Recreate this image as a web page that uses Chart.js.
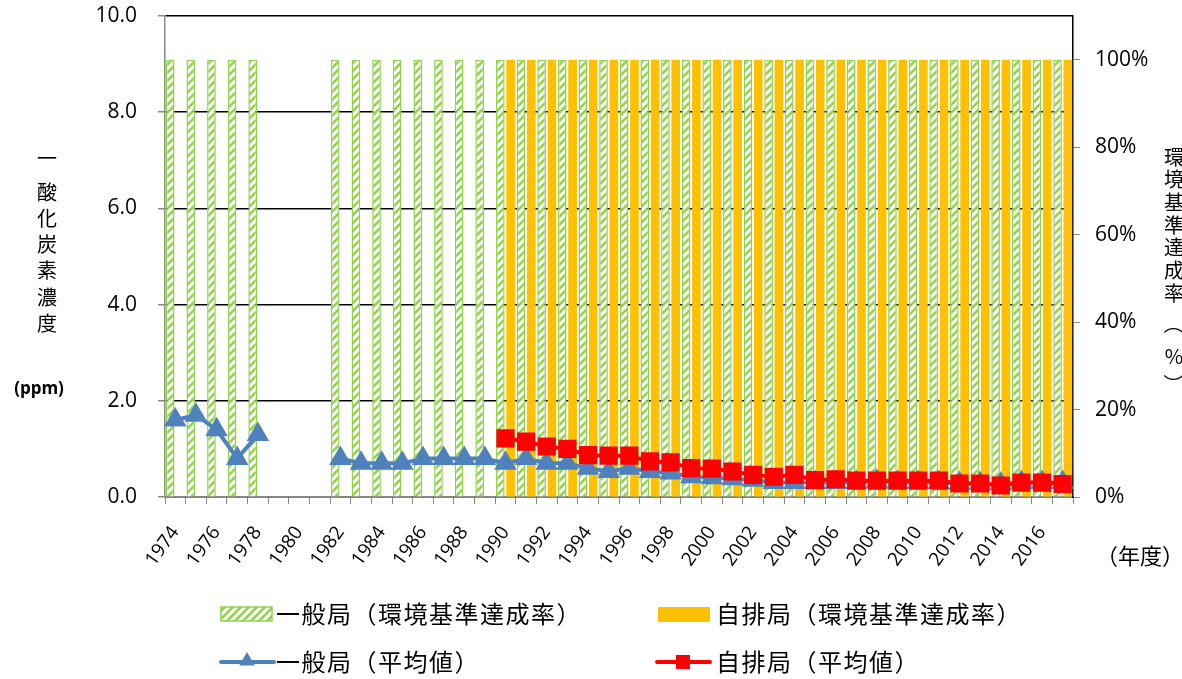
<!DOCTYPE html>
<html>
<head>
    <title>一酸化炭素濃度</title>
    <script src="https://cdn.jsdelivr.net/npm/chart.js"></script>
    <style>
        body {
            margin: 0;
            background-color: #fff;
        }
        .chart-container {
            width: 1182px;
            height: 679px;
            position: relative;
        }
    </style>
</head>
<body>
<div class="chart-container">
    <canvas id="coChart"></canvas>
</div>

<script>
    // 年度
    const years = ['1974','1975','1976','1977','1978','1979','1980','1981','1982','1983',
        '1984','1985','1986','1987','1988','1989','1990','1991','1992','1993',
        '1994','1995','1996','1997','1998','1999','2000','2001','2002','2003',
        '2004','2005','2006','2007','2008','2009','2010','2011','2012','2013',
        '2014','2015','2016','2017'];

    // 環境基準達成率 (%)
    const generalRate = [100,100,100,100,100,null,null,null,100,100,
        100,100,100,100,100,100,100,100,100,100,
        100,100,100,100,100,100,100,100,100,100,
        100,100,100,100,100,100,100,100,100,100,
        100,100,100,100];
    const roadsideRate = [null,null,null,null,null,null,null,null,null,null,
        null,null,null,null,null,null,100,100,100,100,
        100,100,100,100,100,100,100,100,100,100,
        100,100,100,100,100,100,100,100,100,100,
        100,100,100,100];

    // 平均値 (ppm)
    const generalAvg = [1.6,1.7,1.4,0.8,1.3,null,null,null,0.8,0.7,
        0.7,0.7,0.8,0.8,0.8,0.8,0.7,0.8,0.7,0.7,
        0.6,0.53,0.6,0.53,0.5,0.42,0.4,0.38,0.35,0.3,
        0.3,0.3,0.3,0.3,0.33,0.3,0.3,0.3,0.28,0.28,
        0.27,0.3,0.3,0.3];
    const roadsideAvg = [null,null,null,null,null,null,null,null,null,null,
        null,null,null,null,null,null,1.22,1.15,1.05,1.0,
        0.87,0.86,0.86,0.74,0.72,0.6,0.59,0.53,0.46,0.42,
        0.46,0.35,0.37,0.34,0.34,0.34,0.34,0.34,0.28,0.28,
        0.24,0.3,0.3,0.27];

    const leftTicks = [0, 2, 4, 6, 8, 10];
    const rightTicks = [0, 20, 40, 60, 80, 100];

    const GREEN = '#92D050';
    const ORANGE = '#FFC000';
    const BLUE = '#4F81BD';
    const RED = '#FF0000';
    const JP = "'Noto Sans CJK JP', sans-serif";
    const NUM = "'Open Sans', sans-serif";

    function makeStripes() {
        const c = document.createElement('canvas');
        c.width = 8; c.height = 8;
        const g = c.getContext('2d');
        g.fillStyle = '#fff';
        g.fillRect(0, 0, 8, 8);
        g.strokeStyle = GREEN;
        g.lineWidth = 2.6;
        g.beginPath();
        g.moveTo(-2, 10); g.lineTo(10, -2);
        g.moveTo(6, 10); g.lineTo(10, 6);
        g.moveTo(-2, 2); g.lineTo(2, -2);
        g.stroke();
        return g.createPattern(c, 'repeat');
    }
    const stripes = makeStripes();

    function triangle(ctx, x, y, r) {
        ctx.beginPath();
        ctx.moveTo(x, y - r);
        ctx.lineTo(x + r * 0.866, y + r * 0.5);
        ctx.lineTo(x - r * 0.866, y + r * 0.5);
        ctx.closePath();
        ctx.fill();
    }

    // 軸タイトル・凡例
    const extras = {
        id: 'extras',
        afterDraw(chart) {
            const ctx = chart.ctx;
            ctx.save();
            ctx.fillStyle = '#000';
            ctx.textAlign = 'center';
            ctx.textBaseline = 'middle';

            // 左タイトル（縦書き）
            ctx.font = '20px ' + JP;
            const left = '一酸化炭素濃度';
            ctx.fillText(left[0], 47, 158);
            for (let i = 1; i < left.length; i++) {
                ctx.fillText(left[i], 47, 192 + (i - 1) * 26.3);
            }
            ctx.font = 'bold 17px ' + NUM;
            ctx.fillText('(ppm)', 39, 389);

            // 右タイトル（縦書き）
            ctx.font = '20px ' + JP;
            const right = '環境基準達成率';
            for (let i = 0; i < right.length; i++) {
                ctx.fillText(right[i], 1174, 157 + i * 22.7);
            }
            ctx.save();
            ctx.translate(1174, 324);
            ctx.rotate(Math.PI / 2);
            ctx.fillText('（', 0, 0);
            ctx.restore();
            ctx.fillText('%', 1174, 356);
            ctx.save();
            ctx.translate(1174, 384);
            ctx.rotate(Math.PI / 2);
            ctx.fillText('）', 0, 0);
            ctx.restore();

            // 年度
            ctx.font = '22px ' + JP;
            ctx.fillText('（年度）', 1140, 556);

            // 凡例
            ctx.textAlign = 'left';
            ctx.font = '24px ' + JP;
            ctx.letterSpacing = '1.5px';
            ctx.fillStyle = stripes;
            ctx.fillRect(221, 607, 51, 14);
            ctx.strokeStyle = GREEN;
            ctx.lineWidth = 1.5;
            ctx.strokeRect(221, 607, 51, 14);
            ctx.fillStyle = '#000';
            ctx.fillText(chart.data.datasets[2].label, 276, 614);

            ctx.fillStyle = ORANGE;
            ctx.fillRect(658, 607, 52, 15);
            ctx.fillStyle = '#000';
            ctx.fillText(chart.data.datasets[3].label, 716, 614);

            ctx.lineWidth = 4;
            ctx.lineCap = 'round';
            ctx.strokeStyle = BLUE;
            ctx.beginPath(); ctx.moveTo(221, 662); ctx.lineTo(274, 662); ctx.stroke();
            ctx.fillStyle = BLUE;
            triangle(ctx, 247, 661, 9);
            ctx.fillStyle = '#000';
            ctx.fillText(chart.data.datasets[1].label, 276, 662);

            ctx.strokeStyle = RED;
            ctx.beginPath(); ctx.moveTo(657, 662); ctx.lineTo(710, 662); ctx.stroke();
            ctx.fillStyle = RED;
            ctx.fillRect(676, 655, 14, 14);
            ctx.fillStyle = '#000';
            ctx.fillText(chart.data.datasets[0].label, 716, 662);
            ctx.restore();
        }
    };

    const ctx = document.getElementById('coChart').getContext('2d');
    const chart = new Chart(ctx, {
        data: {
            labels: years,
            datasets: [{
                type: 'line',
                label: '自排局（平均値）',
                data: roadsideAvg,
                yAxisID: 'y',
                borderColor: RED,
                backgroundColor: RED,
                borderWidth: 4,
                pointStyle: 'rect',
                pointRadius: 10,
                tension: 0,
                order: 0
            }, {
                type: 'line',
                label: '一般局（平均値）',
                data: generalAvg,
                yAxisID: 'y',
                borderColor: BLUE,
                backgroundColor: BLUE,
                borderWidth: 4,
                pointStyle: 'triangle',
                pointRadius: 9,
                tension: 0,
                order: 1
            }, {
                type: 'bar',
                label: '一般局（環境基準達成率）',
                data: generalRate,
                yAxisID: 'y1',
                backgroundColor: stripes,
                borderColor: GREEN,
                borderWidth: 1.5,
                barPercentage: 0.84,
                categoryPercentage: 1.0,
                order: 2
            }, {
                type: 'bar',
                label: '自排局（環境基準達成率）',
                data: roadsideRate,
                yAxisID: 'y1',
                backgroundColor: ORANGE,
                borderWidth: 0,
                barPercentage: 0.84,
                categoryPercentage: 1.0,
                order: 3
            }]
        },
        options: {
            responsive: true,
            maintainAspectRatio: false,
            animation: false,
            layout: { padding: { top: 16, left: 0, right: 0, bottom: 0 } },
            plugins: { legend: { display: false }, tooltip: { enabled: false } },
            scales: {
                x: {
                    offset: true,
                    afterFit: s => { s.height = 182; },
                    grid: { offset: true, drawOnChartArea: false, tickLength: 7, color: '#888', tickColor: '#888' },
                    border: { color: '#888', width: 1.5 },
                    ticks: {
                        autoSkip: false,
                        minRotation: 54,
                        maxRotation: 54,
                        padding: 18,
                        color: '#000',
                        font: { family: NUM, size: 19 },
                        callback: (v, i) => (i % 2 === 0 ? years[i] : '')
                    }
                },
                y: {
                    position: 'left',
                    min: 0,
                    max: 10,
                    afterFit: s => { s.width = 165; s.paddingTop = 0; s.paddingBottom = 0; },
                    afterBuildTicks: s => { s.ticks = leftTicks.map(v => ({ value: v })); },
                    grid: { color: '#000', lineWidth: 1.5, tickColor: '#888', tickLength: 7 },
                    border: { color: '#888', width: 1.5 },
                    ticks: {
                        color: '#000',
                        padding: 21,
                        font: { family: NUM, size: 21 },
                        callback: v => v.toFixed(1)
                    }
                },
                y1: {
                    position: 'right',
                    min: 0,
                    max: 110,
                    afterFit: s => { s.width = 109; s.paddingTop = 0; s.paddingBottom = 0; },
                    afterBuildTicks: s => { s.ticks = rightTicks.map(v => ({ value: v })); },
                    grid: { drawOnChartArea: false, tickColor: '#888', tickLength: 7 },
                    border: { color: '#000', width: 1.5 },
                    ticks: {
                        color: '#000',
                        padding: 15,
                        font: { family: NUM, size: 21 },
                        callback: v => v + '%'
                    }
                }
            }
        },
        plugins: [extras]
    });
</script>
</body>
</html>
